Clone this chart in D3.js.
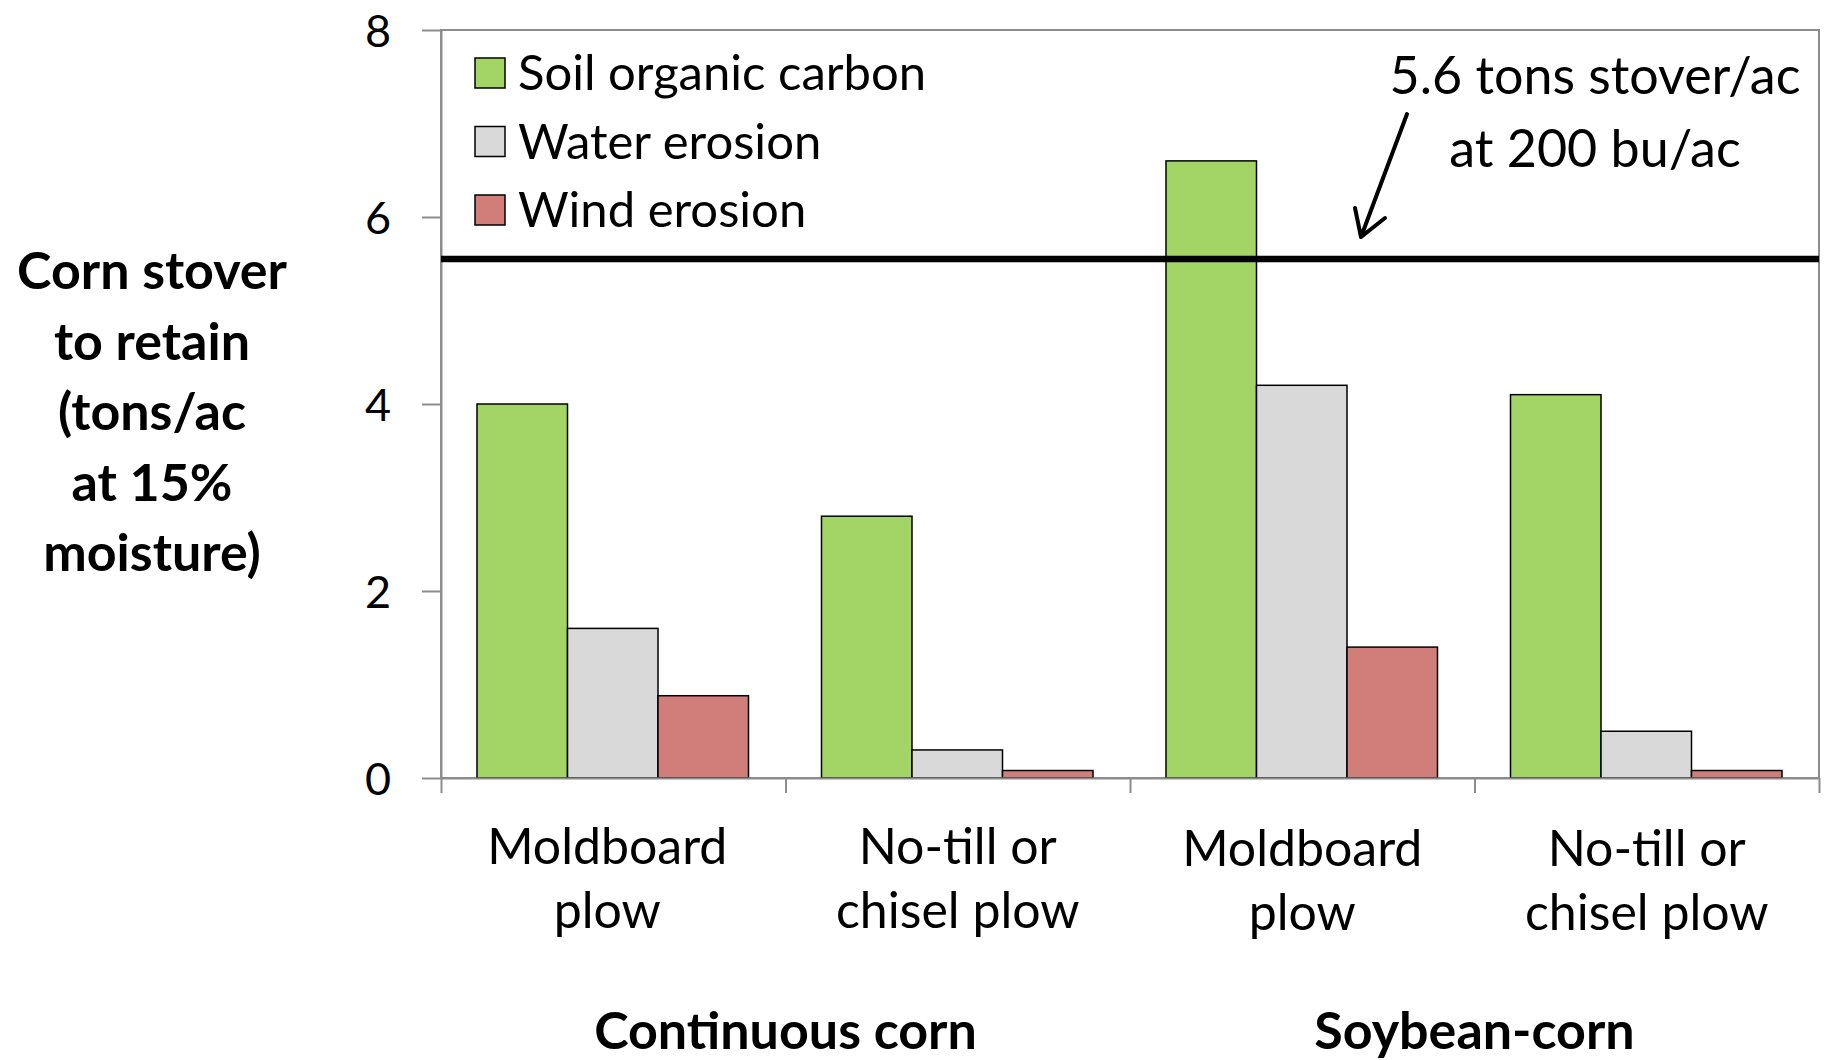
<!DOCTYPE html>
<html>
<head>
<meta charset="utf-8">
<script src="https://cdn.jsdelivr.net/npm/d3@7"></script>
<style>
  html, body { margin: 0; padding: 0; background: #fff; }
  svg text { font-family: Lato, "Open Sans", sans-serif; fill: #000; }
</style>
</head>
<body>
<svg id="chart" width="1828" height="1060"></svg>
<script>
// data
var categories = ['Moldboard|plow', 'No-till or|chisel plow', 'Moldboard|plow', 'No-till or|chisel plow'];
var groups = ['Continuous corn', 'Soybean-corn'];
var seriesNames = ['Soil organic carbon', 'Water erosion', 'Wind erosion'];
var seriesColors = ['#A2D466', '#D9D9D9', '#D17E7B'];
var soilCarbon = [4.0, 2.8, 6.6, 4.1];
var waterErosion = [1.6, 0.3, 4.2, 0.5];
var windErosion = [0.88, 0.08, 1.4, 0.08];
var yTicks = [0, 2, 4, 6, 8];
var refLine = 5.55;
var refLabel = ['5.6 tons stover/ac', 'at 200 bu/ac'];
var yTitle = ['Corn stover', 'to retain', '(tons/ac', 'at 15%', 'moisture)'];

var series = [soilCarbon, waterErosion, windErosion];

function drawChart() {
    var svg = d3.select('#chart');
    var left = 441, right = 1819, top = 30, bottom = 778;

    var y = d3.scaleLinear().domain([0, 8]).range([bottom, top]);
    var x0 = d3.scaleBand().domain(d3.range(categories.length)).range([left, right]);
    var x1 = d3.scaleBand().domain(d3.range(series.length))
               .range([36, x0.bandwidth() - 37]);
    var xEdge = d3.scaleLinear().domain([0, categories.length]).range([left, right]);

    // plot area border
    svg.append('rect')
        .attr('x', left).attr('y', top)
        .attr('width', right - left).attr('height', bottom - top)
        .style('fill', 'none')
        .style('stroke', '#8c8c8c')
        .style('stroke-width', '2px');

    // y axis
    var yAxis = svg.append('g')
        .attr('transform', 'translate(' + left + ',0)')
        .call(d3.axisLeft(y).tickValues(yTicks).tickSize(19).tickPadding(31).tickSizeOuter(0));
    yAxis.selectAll('line, path').style('stroke', '#8c8c8c').style('stroke-width', '2px');
    yAxis.selectAll('text')
        .style('font-size', '45px')
        .style('font-family', 'Lato')
        .attr('dy', '0.36em');

    // bars
    var bars = svg.append('g');
    categories.forEach(function(c, i) {
        series.forEach(function(s, j) {
            bars.append('rect')
                .attr('x', x0(i) + x1(j))
                .attr('y', y(s[i]))
                .attr('width', x1.bandwidth())
                .attr('height', y(0) - y(s[i]))
                .style('fill', seriesColors[j])
                .style('stroke', '#000')
                .style('stroke-width', '1.5px');
        });
    });

    // x axis with ticks at category edges
    var xAxis = svg.append('g')
        .attr('transform', 'translate(0,' + bottom + ')')
        .call(d3.axisBottom(xEdge).tickValues(d3.range(categories.length + 1))
              .tickSize(15).tickSizeOuter(0).tickFormat(''));
    xAxis.selectAll('line, path').style('stroke', '#8c8c8c').style('stroke-width', '2px');

    // category labels (two lines)
    categories.forEach(function(c, i) {
        var t = svg.append('text')
            .attr('text-anchor', 'middle')
            .style('font-size', '50px');
        c.split('|').forEach(function(line, k) {
            t.append('tspan')
                .attr('x', x0(i) + x0.bandwidth() / 2 - (i === 0 ? 6 : 0))
                .attr('y', 864 + (i > 1 ? 2 : 0) + k * 64)
                .text(line);
        });
    });

    // group labels
    groups.forEach(function(g, i) {
        svg.append('text')
            .attr('x', x0(i * 2) + x0.bandwidth())
            .attr('y', 1049)
            .attr('text-anchor', 'middle')
            .style('font-size', '52px')
            .style('font-weight', 'bold')
            .text(g);
    });

    // y title
    var yt = svg.append('text')
        .attr('text-anchor', 'middle')
        .style('font-size', '52px')
        .style('font-weight', 'bold');
    yTitle.forEach(function(line, k) {
        yt.append('tspan')
            .attr('x', 152)
            .attr('y', 289 + k * 70.6)
            .text(line);
    });

    // reference line
    svg.append('line')
        .attr('x1', left).attr('x2', right)
        .attr('y1', y(refLine)).attr('y2', y(refLine))
        .style('stroke', '#000')
        .style('stroke-width', '6.5px');

    // annotation
    var at = svg.append('text')
        .attr('text-anchor', 'middle')
        .style('font-size', '52px');
    refLabel.forEach(function(line, k) {
        at.append('tspan')
            .attr('x', 1595)
            .attr('y', 94 + k * 73)
            .text(line);
    });
    svg.append('path')
        .attr('d', 'M1407,114 L1361,237 M1355,208 L1361,237 L1385,218')
        .style('fill', 'none')
        .style('stroke', '#000')
        .style('stroke-width', '4px')
        .style('stroke-linecap', 'round')
        .style('stroke-linejoin', 'round');

    // legend
    var legend = svg.append('g').attr('transform', 'translate(475,58)');
    seriesNames.forEach(function(name, j) {
        var row = legend.append('g').attr('transform', 'translate(0,' + j * 68.5 + ')');
        row.append('rect')
            .attr('width', 30).attr('height', 30)
            .style('fill', seriesColors[j])
            .style('stroke', '#000')
            .style('stroke-width', '1.5px');
        row.append('text')
            .attr('x', 43)
            .attr('y', 32)
            .style('font-size', '49px')
            .text(name);
    });
}

drawChart();
</script>
</body>
</html>
